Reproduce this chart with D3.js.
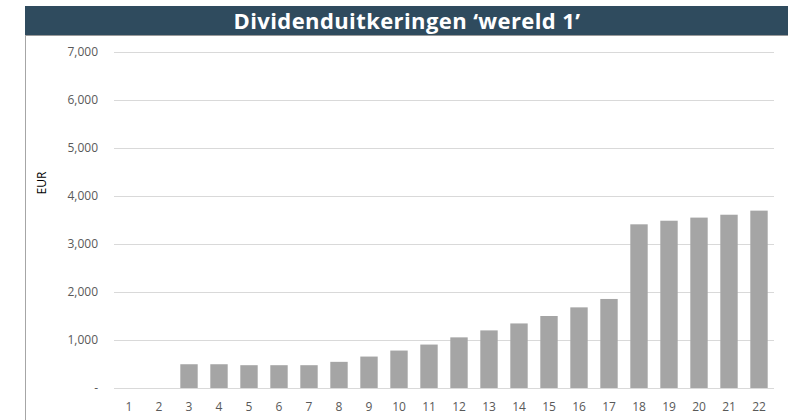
<!DOCTYPE html>
<html lang="en">
<head>
<meta charset="UTF-8">
<script src="https://d3js.org/d3.v7.min.js"></script>
<title>Dividenduitkeringen</title>
<style>
  body { margin: 0; background: white; }
  text { font-family: "Open Sans", "Noto Sans", sans-serif; }
</style>
</head>
<body>
<div id="chart"></div>
<script>
// values
const years = ["1","2","3","4","5","6","7","8","9","10","11","12","13","14","15","16","17","18","19","20","21","22"];
const dividends = [0, 0, 495, 495, 475, 475, 475, 545, 655, 780, 905, 1055, 1200, 1345, 1500, 1680, 1855, 3410, 3485, 3550, 3610, 3695];
const yTicks = [0, 1000, 2000, 3000, 4000, 5000, 6000, 7000];

const W = 788, H = 420;
const svg = d3.select("#chart").append("svg")
  .attr("width", W).attr("height", H);

// title bar
svg.append("rect").attr("x", 25).attr("y", 6).attr("width", W - 25).attr("height", 29)
  .attr("fill", "#2f4b5e");
svg.append("line").attr("x1", 25).attr("x2", W).attr("y1", 35.5).attr("y2", 35.5)
  .attr("stroke", "#9a9a9a");
svg.append("line").attr("x1", 25.5).attr("x2", 25.5).attr("y1", 35).attr("y2", H)
  .attr("stroke", "#a6a6a6");
svg.append("text").attr("x", 407).attr("y", 29)
  .attr("text-anchor", "middle").attr("fill", "white")
  .style("font-size", "22px").style("font-weight", "bold")
  .style("letter-spacing", "0.4px")
  .text("Dividenduitkeringen ‘wereld 1’");

var x = d3.scaleBand().domain(years).range([114, 774]).paddingInner(0.42).paddingOuter(0.21);
var y = d3.scaleLinear().domain([0, 7000]).range([388, 52]);

// gridlines
svg.append("g").selectAll("line").data(yTicks.filter(d => d > 0)).enter().append("line")
  .attr("x1", 114).attr("x2", 774)
  .attr("y1", d => Math.round(y(d)) + 0.5).attr("y2", d => Math.round(y(d)) + 0.5)
  .attr("stroke", "#d9d9d9");

// y tick labels
svg.append("g").selectAll("text").data(yTicks).enter().append("text")
  .attr("x", 98).attr("y", d => y(d) + 4)
  .attr("text-anchor", "end").attr("fill", "#595959")
  .style("font-size", "12px")
  .text(d => d === 0 ? "-" : d3.format(",")(d));

// bars
svg.append("g").selectAll("rect").data(dividends).enter().append("rect")
  .attr("x", (d, i) => x(years[i]))
  .attr("y", d => y(d))
  .attr("width", x.bandwidth())
  .attr("height", d => y(0) - y(d))
  .attr("fill", "#a5a5a5");

// x axis line
svg.append("line").attr("x1", 114).attr("x2", 774)
  .attr("y1", 388.5).attr("y2", 388.5).attr("stroke", "#d9d9d9");

// x labels
svg.append("g").selectAll("text").data(years).enter().append("text")
  .attr("x", d => x(d) + x.bandwidth() / 2).attr("y", 411)
  .attr("text-anchor", "middle").attr("fill", "#595959")
  .style("font-size", "12px")
  .text(d => d);

// y axis title
svg.append("text").attr("transform", "translate(46,183) rotate(-90)")
  .attr("text-anchor", "middle").attr("fill", "#000")
  .style("font-size", "12px")
  .text("EUR");
</script>
</body>
</html>
